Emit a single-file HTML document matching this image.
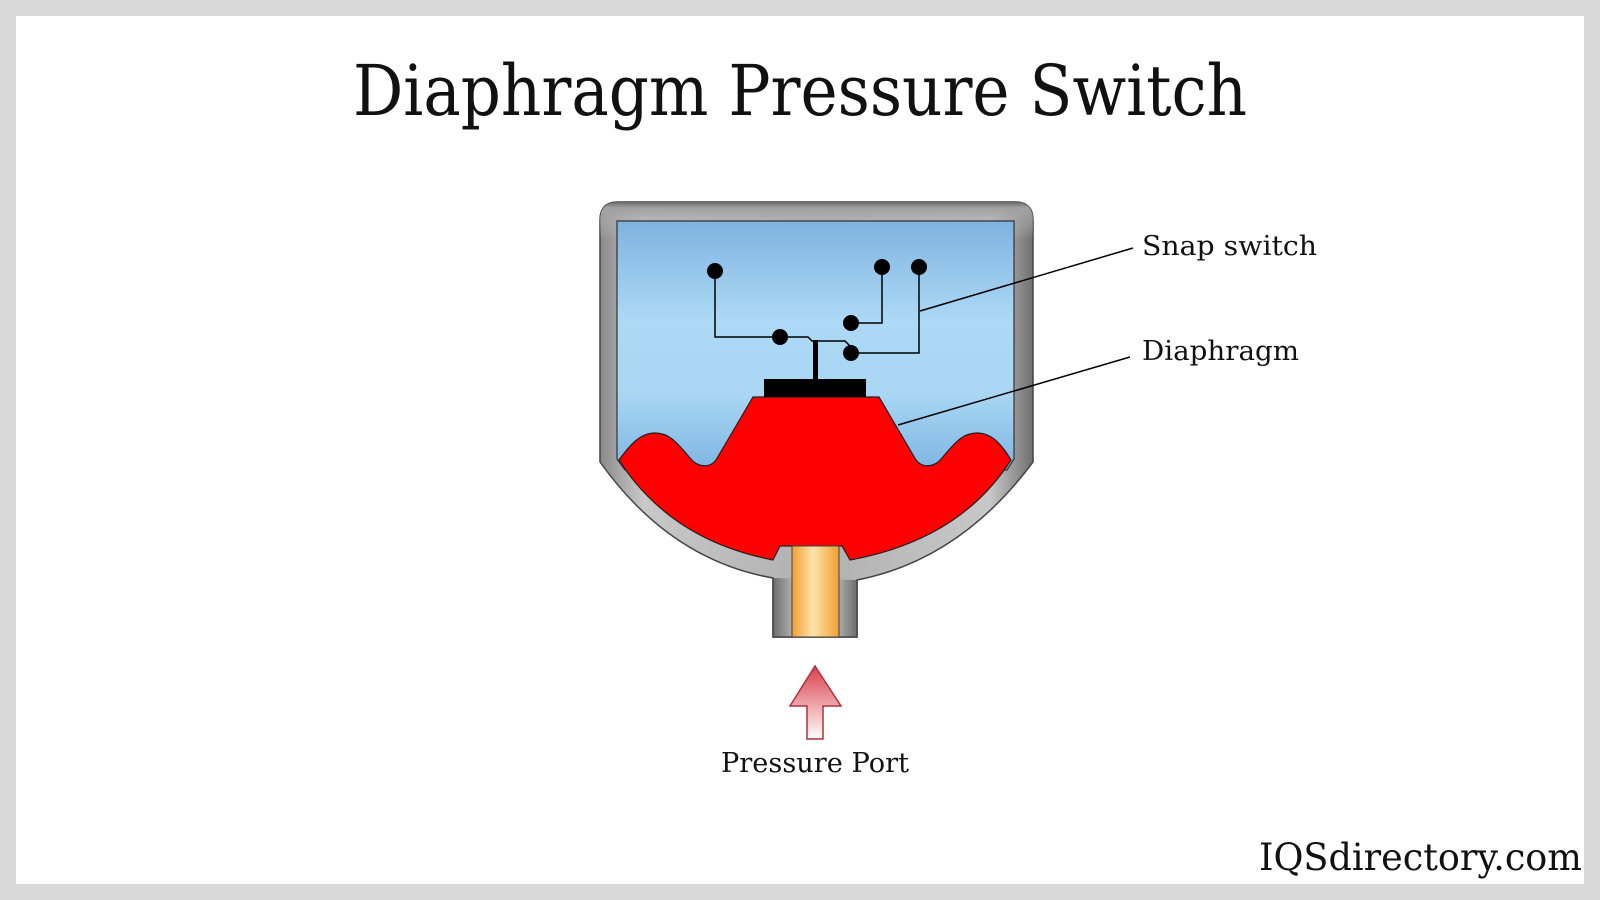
<!DOCTYPE html>
<html><head><meta charset="utf-8"><style>
html,body{margin:0;padding:0;background:#d9d9d9;}
svg{display:block;}
</style></head><body>
<svg width="1600" height="900" viewBox="0 0 1600 900" xmlns="http://www.w3.org/2000/svg">
<defs>
<linearGradient id="metal" x1="0" y1="0" x2="1" y2="0">
<stop offset="0" stop-color="#8a8a8a"/><stop offset="0.1" stop-color="#c8c8c8"/><stop offset="0.5" stop-color="#b0b0b0"/><stop offset="0.9" stop-color="#c8c8c8"/><stop offset="1" stop-color="#707070"/>
</linearGradient>
<linearGradient id="metalTop" x1="0" y1="0" x2="0" y2="1">
<stop offset="0" stop-color="#6a6a6a"/><stop offset="0.15" stop-color="#a0a0a0"/><stop offset="1" stop-color="#bdbdbd" stop-opacity="0"/>
</linearGradient>
<linearGradient id="blue" x1="0" y1="0" x2="0" y2="1">
<stop offset="0" stop-color="#7fb2e0"/><stop offset="0.4" stop-color="#acd9f5"/><stop offset="0.7" stop-color="#a8d6f3"/><stop offset="1" stop-color="#7fb5e2"/>
</linearGradient>
<linearGradient id="tube" x1="0" y1="0" x2="1" y2="0">
<stop offset="0" stop-color="#f0a030"/><stop offset="0.45" stop-color="#fde3aa"/><stop offset="1" stop-color="#f0a030"/>
</linearGradient>
<linearGradient id="neck" x1="0" y1="0" x2="1" y2="0">
<stop offset="0" stop-color="#6d6d6d"/><stop offset="0.25" stop-color="#b5b5b5"/><stop offset="0.75" stop-color="#b5b5b5"/><stop offset="1" stop-color="#6d6d6d"/>
</linearGradient>
<linearGradient id="arrow" x1="0" y1="0" x2="0" y2="1">
<stop offset="0" stop-color="#d9404a"/><stop offset="1" stop-color="#ffffff"/>
</linearGradient>
</defs>
<rect x="16" y="16" width="1568" height="868" fill="#ffffff"/>
<text x="800" y="115" text-anchor="middle" font-family="'DejaVu Serif','Liberation Serif',serif" font-size="70" fill="#111" textLength="894" lengthAdjust="spacingAndGlyphs">Diaphragm Pressure Switch</text>

<!-- housing -->
<path d="M600,220 Q600,202 618,202 L1015,202 Q1033,202 1033,220 L1033,462 Q960,560 857,580 L857,637 L773,637 L773,578 Q670,560 600,462 Z" fill="url(#metal)" stroke="#444" stroke-width="1.5"/>
<path d="M600,220 Q600,202 618,202 L1015,202 Q1033,202 1033,220 L1033,240 L600,240 Z" fill="url(#metalTop)"/>
<path d="M773,578 L773,637 L857,637 L857,580" fill="url(#neck)" stroke="#444" stroke-width="1.5"/>
<!-- blue cavity -->
<path d="M617,221 L1014,221 L1014,459 L1007,470 L625,470 L617,459 Z" fill="url(#blue)" stroke="#333" stroke-width="1.2"/>
<!-- red diaphragm -->
<path d="M619,460 C630,445 640,433 655,433 C668,433 675,440 690,458 C698,468 710,468 716,460 L753,397 L879,397 L916,460 C922,468 934,468 942,458 C957,440 964,433 977,433 C992,433 1002,445 1011,460 Q960,540 850,560 L842,546 L780,546 L773,560 Q670,540 619,460 Z" fill="#ff0000" stroke="#222" stroke-width="1.2"/>
<!-- tube -->
<rect x="792" y="546" width="47" height="91" fill="url(#tube)" stroke="#444" stroke-width="1"/>
<!-- plate & stem -->
<rect x="764" y="379" width="102" height="18" fill="#000"/>
<rect x="813" y="340" width="5" height="40" fill="#000"/>
<!-- switch wires -->
<g fill="none" stroke="#000" stroke-width="1.5">
<polyline points="715,271 715,337 808,337 812,341 845,341 851,347"/>
<polyline points="882,267 882,323 851,323"/>
<polyline points="919,267 919,353 851,353"/>
<line x1="920" y1="311" x2="1133" y2="248"/>
<line x1="898" y1="425" x2="1130" y2="357"/>
</g>
<g fill="#000">
<circle cx="715" cy="271" r="8"/><circle cx="882" cy="267" r="8"/><circle cx="919" cy="267" r="8"/>
<circle cx="851" cy="323" r="8"/><circle cx="780" cy="337" r="8"/><circle cx="851" cy="353" r="8"/>
</g>
<g font-family="'DejaVu Serif','Liberation Serif',serif" font-size="27" fill="#111">
<text x="1142" y="255" textLength="175" lengthAdjust="spacingAndGlyphs">Snap switch</text>
<text x="1142" y="360" textLength="157" lengthAdjust="spacingAndGlyphs">Diaphragm</text>
<text x="815" y="772" text-anchor="middle" textLength="188" lengthAdjust="spacingAndGlyphs">Pressure Port</text>
<text x="1582" y="870" text-anchor="end" font-size="37" textLength="323" lengthAdjust="spacingAndGlyphs">IQSdirectory.com</text>
</g>
<!-- arrow -->
<path d="M815,666 L841,706 L823,706 L823,739 L807,739 L807,706 L790,706 Z" fill="url(#arrow)" stroke="#b03038" stroke-width="1.5"/>
</svg>
</body></html>
